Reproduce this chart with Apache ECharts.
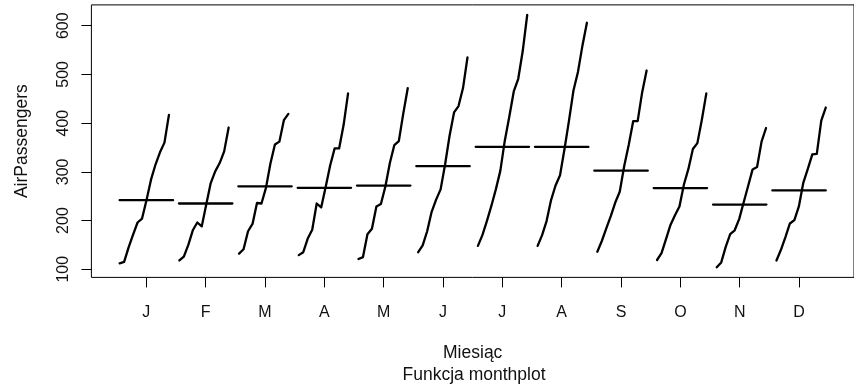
<!DOCTYPE html>
<html>
<head>
<meta charset="utf-8">
<script src="https://cdn.jsdelivr.net/npm/echarts@6/dist/echarts.min.js"></script>
<style>
  html, body { margin: 0; padding: 0; background: #ffffff; }
  #chart { width: 854px; height: 385px; }
</style>
</head>
<body>
<div id="chart"></div>
<script>
// Monthly AirPassengers totals (thousands), 1949 → 1960, one array per calendar month
const monthLabels = ['J', 'F', 'M', 'A', 'M', 'J', 'J', 'A', 'S', 'O', 'N', 'D'];
const passJan = [112, 115, 145, 171, 196, 204, 242, 284, 315, 340, 360, 417];
const passFeb = [118, 126, 150, 180, 196, 188, 233, 277, 301, 318, 342, 391];
const passMar = [132, 141, 178, 193, 236, 235, 267, 317, 356, 362, 406, 419];
const passApr = [129, 135, 163, 181, 235, 227, 269, 313, 348, 348, 396, 461];
const passMay = [121, 125, 172, 183, 229, 234, 270, 318, 355, 363, 420, 472];
const passJun = [135, 149, 178, 218, 243, 264, 315, 374, 422, 435, 472, 535];
const passJul = [148, 170, 199, 230, 264, 302, 364, 413, 465, 491, 548, 622];
const passAug = [148, 170, 199, 242, 272, 293, 347, 405, 467, 505, 559, 606];
const passSep = [136, 158, 184, 209, 237, 259, 312, 355, 404, 404, 463, 508];
const passOct = [119, 133, 162, 191, 211, 229, 274, 306, 347, 359, 407, 461];
const passNov = [104, 114, 146, 172, 180, 203, 237, 271, 305, 310, 362, 390];
const passDec = [118, 140, 166, 194, 201, 229, 278, 306, 336, 337, 405, 432];
const yTicks = [100, 200, 300, 400, 500, 600];
const xTicks = [1, 2, 3, 4, 5, 6, 7, 8, 9, 10, 11, 12];

const monthValues = [passJan, passFeb, passMar, passApr, passMay, passJun,
                     passJul, passAug, passSep, passOct, passNov, passDec];

const FONT = "'Liberation Sans', Arial, Helvetica, sans-serif";
const INK = '#000000';
const TEXT = '#111111';

// Month slots span i-0.45 .. i+0.45; each point is offset by its position in the full series
const nMonths = monthLabels.length;
const nTotal = monthValues.reduce((s, a) => s + a.length, 0);
const xLo = 0.55, xHi = nMonths + 0.45;
const xPad = (xHi - xLo) * 0.04;
const allVals = monthValues.flat();
const yLo = Math.min(...allVals), yHi = Math.max(...allVals);
const yPad = (yHi - yLo) * 0.04;

const lineStyle = { color: INK, width: 2.3, cap: 'round', join: 'round' };
const series = [];
monthValues.forEach((vals, k) => {
  const m = k + 1;
  const pts = vals.map((v, j) => [m - 0.45 + 0.9 * (nMonths * j + k) / (nTotal - 1), v]);
  series.push({
    type: 'line', data: pts, symbol: 'none', silent: true,
    lineStyle: lineStyle, z: 3
  });
  // horizontal reference line at the month's mean
  const mean = vals.reduce((a, b) => a + b, 0) / vals.length;
  series.push({
    type: 'line', data: [[m - 0.45, mean], [m + 0.45, mean]], symbol: 'none', silent: true,
    lineStyle: lineStyle, z: 3
  });
});

const chart = echarts.init(document.getElementById('chart'), null, { renderer: 'canvas' });
chart.setOption({
  animation: false,
  backgroundColor: '#ffffff',
  grid: {
    left: 91.4, top: 4.9, width: 767.9, height: 272.5,
    show: true, borderColor: INK, borderWidth: 1, backgroundColor: 'transparent',
    containLabel: false
  },
  xAxis: {
    type: 'value', min: xLo - xPad, max: xHi + xPad,
    name: 'Miesiąc', nameLocation: 'middle', nameGap: 67,
    nameTextStyle: { fontFamily: FONT, fontSize: 17.5, color: TEXT },
    axisLine: { show: false },
    axisTick: { show: true, inside: false, length: 10, customValues: xTicks,
                lineStyle: { color: INK, width: 1 } },
    axisLabel: { customValues: xTicks, margin: 27, fontFamily: FONT, fontSize: 16, color: TEXT,
                 formatter: v => monthLabels[Math.round(v) - 1] },
    splitLine: { show: false }
  },
  yAxis: {
    type: 'value', min: yLo - yPad, max: yHi + yPad,
    name: 'AirPassengers', nameLocation: 'middle', nameGap: 60, nameRotate: 90,
    nameTextStyle: { fontFamily: FONT, fontSize: 17.5, color: TEXT },
    axisLine: { show: false },
    axisTick: { show: true, inside: false, length: 10, customValues: yTicks,
                lineStyle: { color: INK, width: 1 } },
    axisLabel: { customValues: yTicks, rotate: 90, margin: 20, fontFamily: FONT, fontSize: 16,
                 color: TEXT },
    splitLine: { show: false }
  },
  graphic: [{
    type: 'text', x: 474, y: 375,
    style: { text: 'Funkcja monthplot', font: "17.5px 'Liberation Sans', Arial, sans-serif",
             fill: TEXT, align: 'center', verticalAlign: 'middle' }
  }],
  series: series
});
</script>
</body>
</html>
